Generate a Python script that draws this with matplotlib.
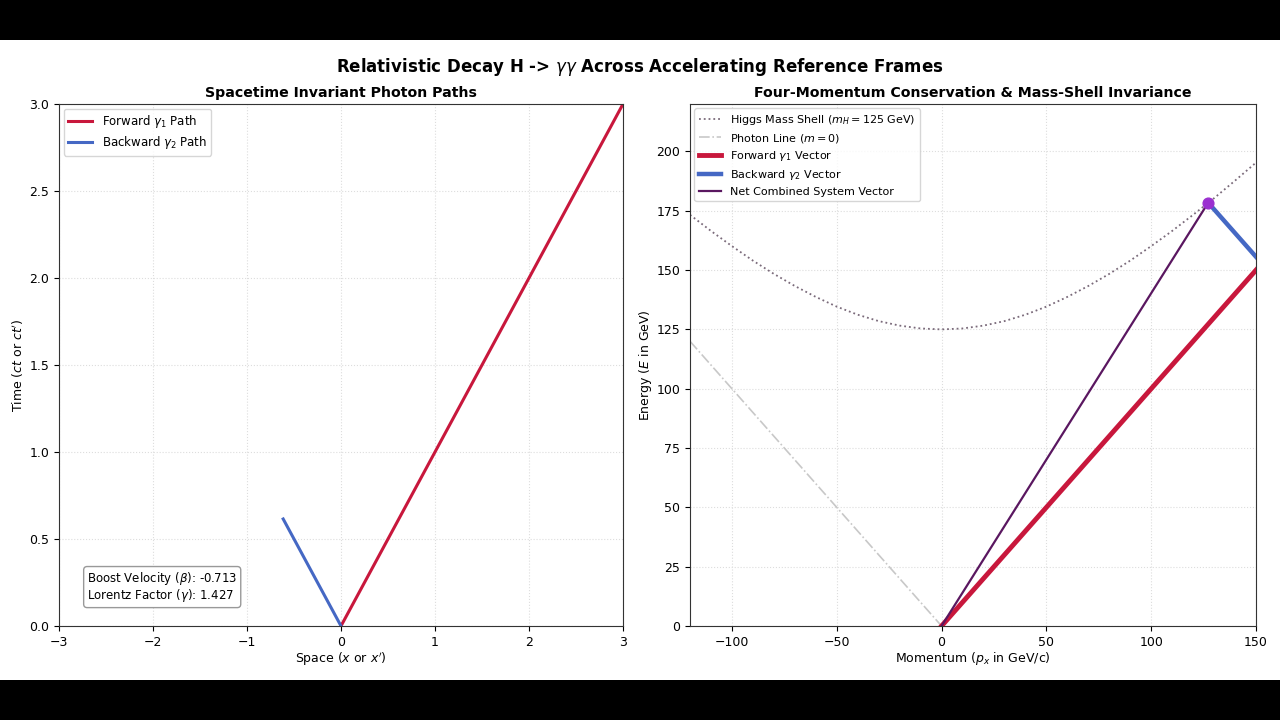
import matplotlib
matplotlib.use("Agg")
import matplotlib.pyplot as plt
from matplotlib.patches import Rectangle

# left panel: photon worldlines (space, time)
FWD_PATH_X = [0.0, 3.0]
FWD_PATH_T = [0.0, 3.0]
BWD_PATH_X = [0.0, -0.615]
BWD_PATH_T = [0.0, 0.615]
BETA = -0.713
GAMMA = 1.427

# right panel: four-momentum vectors (p_x, E)
FWD_VEC_P = [0.0, 152.8]
FWD_VEC_E = [0.0, 152.8]
BWD_VEC_P = [152.8, 127.2]
BWD_VEC_E = [152.8, 178.4]
NET_VEC_P = [0.0, 127.2]
NET_VEC_E = [0.0, 178.4]

SHELL_P = [-120, -110, -100, -90, -80, -70, -60, -50, -40, -30, -20, -10, 0,
           10, 20, 30, 40, 50, 60, 70, 80, 90, 100, 110, 120, 130, 140, 150]
SHELL_E = [173.3, 166.5, 160.1, 154.0, 148.4, 143.3, 138.7, 134.6, 131.2, 128.5,
           126.6, 125.4, 125.0, 125.4, 126.6, 128.5, 131.2, 134.6, 138.7, 143.3,
           148.4, 154.0, 160.1, 166.5, 173.3, 180.3, 187.7, 195.3]
PHOTON_P = [-120, 0, 150]
PHOTON_E = [120, 0, 150]

RED = "#c8173c"
BLUE = "#4568c4"
NET = "#5a1760"
DOT = "#9b30d0"

fig = plt.figure(figsize=(12.8, 7.2), dpi=100, facecolor="black")
fig.patches.append(Rectangle((0, 40 / 720), 1, 640 / 720, transform=fig.transFigure,
                             facecolor="white", edgecolor="none", zorder=-10))

fig.text(0.5, 1 - 67 / 720, r"Relativistic Decay H -> $\gamma\gamma$ Across Accelerating Reference Frames",
         ha="center", va="center", fontsize=12, fontweight="bold")

ax1 = fig.add_axes([59 / 1280, 1 - 626 / 720, 564 / 1280, 522 / 720])
ax2 = fig.add_axes([690 / 1280, 1 - 626 / 720, 566 / 1280, 522 / 720])

for ax in (ax1, ax2):
    ax.grid(True, linestyle=":", color="#dddddd", linewidth=0.8)
    for spine in ax.spines.values():
        spine.set_color("#333333")
    ax.tick_params(labelsize=9)

# left panel
ax1.plot(FWD_PATH_X, FWD_PATH_T, color=RED, linewidth=2.2, label=r"Forward $\gamma_1$ Path")
ax1.plot(BWD_PATH_X, BWD_PATH_T, color=BLUE, linewidth=2.2, label=r"Backward $\gamma_2$ Path")
ax1.set_xlim(-3, 3)
ax1.set_ylim(0, 3)
ax1.set_xlabel(r"Space ($x$ or $x'$)", fontsize=9, labelpad=1)
ax1.set_ylabel(r"Time ($ct$ or $ct'$)", fontsize=9, labelpad=2)
ax1.set_title("Spacetime Invariant Photon Paths", fontsize=10.2, fontweight="bold", pad=5)
ax1.legend(loc="upper left", fontsize=8.5, labelspacing=0.3, borderaxespad=0.4)
ax1.text(0.05, 0.042, f"Boost Velocity ($\\beta$): {BETA:.3f}\nLorentz Factor ($\\gamma$): {GAMMA:.3f}",
         transform=ax1.transAxes, fontsize=8.5, va="bottom", ha="left", linespacing=1.0,
         bbox=dict(boxstyle="round,pad=0.3", facecolor="white", edgecolor="#999999"))

# right panel
ax2.plot(SHELL_P, SHELL_E, linestyle=":", color="#7a6a7a", linewidth=1.3,
         label=r"Higgs Mass Shell ($m_H = 125$ GeV)")
ax2.plot(PHOTON_P, PHOTON_E, linestyle="-.", color="#c8c8c8", linewidth=1.2,
         label=r"Photon Line ($m = 0$)")
ax2.plot(FWD_VEC_P, FWD_VEC_E, color=RED, linewidth=3.5, label=r"Forward $\gamma_1$ Vector", zorder=3)
ax2.plot(BWD_VEC_P, BWD_VEC_E, color=BLUE, linewidth=3.2, label=r"Backward $\gamma_2$ Vector", zorder=3)
ax2.plot(NET_VEC_P, NET_VEC_E, color=NET, linewidth=1.6, label="Net Combined System Vector", zorder=4)
ax2.scatter([NET_VEC_P[-1]], [NET_VEC_E[-1]], s=60, color=DOT, zorder=5)
ax2.set_xlim(-120, 150)
ax2.set_ylim(0, 220)
ax2.set_yticks([0, 25, 50, 75, 100, 125, 150, 175, 200])
ax2.set_xlabel(r"Momentum ($p_x$ in GeV/c)", fontsize=9, labelpad=1)
ax2.set_ylabel(r"Energy ($E$ in GeV)", fontsize=9, labelpad=2)
ax2.set_title("Four-Momentum Conservation & Mass-Shell Invariance", fontsize=10.2, fontweight="bold", pad=5)
ax2.legend(loc="upper left", fontsize=8, labelspacing=0.42, borderaxespad=0.4)

fig.savefig("out.png", dpi=100, facecolor=fig.get_facecolor())
